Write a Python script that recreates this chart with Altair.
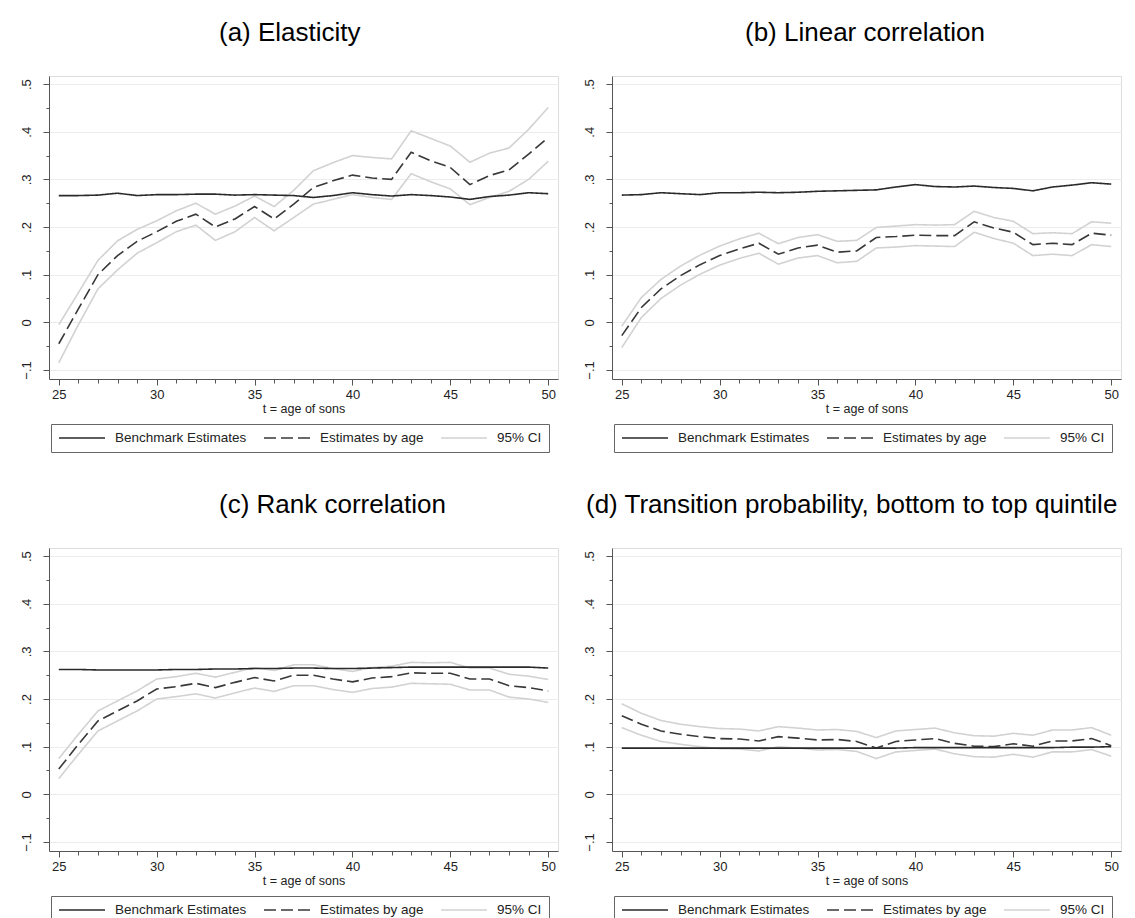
import altair as alt
import pandas as pd

ages = list(range(25, 51))

titles = ["(a) Elasticity", "(b) Linear correlation", "(c) Rank correlation",
          "(d) Transition probability, bottom to top quintile"]
series_names = ["Benchmark Estimates", "Estimates by age", "95% CI"]
y_ticks = [-0.1, -0.05, 0.0, 0.05, 0.1, 0.15, 0.2, 0.25, 0.3, 0.35, 0.4, 0.45, 0.5]
x_ticks = list(range(25, 51))
x_label = "t = age of sons"

# (a) Elasticity
bench_a = [0.266, 0.266, 0.267, 0.271, 0.266, 0.268, 0.268, 0.269, 0.269, 0.267, 0.268, 0.267, 0.266,
           0.262, 0.266, 0.272, 0.268, 0.265, 0.268, 0.266, 0.263, 0.258, 0.264, 0.267, 0.272, 0.270]
est_a = [-0.045, 0.028, 0.100, 0.140, 0.170, 0.190, 0.212, 0.227, 0.200, 0.217, 0.243, 0.217, 0.248,
         0.283, 0.297, 0.309, 0.303, 0.300, 0.357, 0.339, 0.325, 0.289, 0.308, 0.320, 0.353, 0.388]
hi_a = [-0.005, 0.062, 0.130, 0.171, 0.195, 0.213, 0.234, 0.250, 0.227, 0.244, 0.265, 0.243, 0.277,
        0.318, 0.335, 0.350, 0.346, 0.343, 0.402, 0.386, 0.370, 0.336, 0.355, 0.366, 0.405, 0.451]
lo_a = [-0.085, -0.005, 0.070, 0.110, 0.145, 0.167, 0.190, 0.204, 0.172, 0.190, 0.220, 0.192, 0.220,
        0.248, 0.258, 0.268, 0.262, 0.258, 0.312, 0.295, 0.280, 0.247, 0.262, 0.275, 0.300, 0.338]

# (b) Linear correlation
bench_b = [0.267, 0.268, 0.272, 0.270, 0.268, 0.272, 0.272, 0.273, 0.272, 0.273, 0.275, 0.276, 0.277,
           0.278, 0.284, 0.289, 0.285, 0.284, 0.286, 0.283, 0.281, 0.276, 0.284, 0.288, 0.293, 0.290]
est_b = [-0.028, 0.031, 0.070, 0.098, 0.121, 0.140, 0.154, 0.166, 0.143, 0.156, 0.162, 0.147, 0.150,
         0.178, 0.180, 0.183, 0.182, 0.182, 0.211, 0.198, 0.189, 0.163, 0.166, 0.163, 0.187, 0.183]
hi_b = [-0.008, 0.052, 0.090, 0.118, 0.141, 0.160, 0.175, 0.187, 0.165, 0.178, 0.184, 0.170, 0.172,
        0.199, 0.202, 0.205, 0.204, 0.205, 0.233, 0.220, 0.212, 0.186, 0.188, 0.186, 0.211, 0.208]
lo_b = [-0.053, 0.010, 0.050, 0.078, 0.101, 0.120, 0.134, 0.145, 0.122, 0.135, 0.140, 0.125, 0.128,
        0.156, 0.158, 0.161, 0.160, 0.159, 0.189, 0.176, 0.166, 0.140, 0.143, 0.140, 0.163, 0.159]

# (c) Rank correlation
bench_c = [0.262, 0.262, 0.261, 0.261, 0.261, 0.261, 0.262, 0.262, 0.263, 0.263, 0.264, 0.264, 0.265,
           0.265, 0.264, 0.264, 0.265, 0.266, 0.267, 0.267, 0.267, 0.267, 0.267, 0.267, 0.267, 0.265]
est_c = [0.053, 0.105, 0.154, 0.175, 0.196, 0.221, 0.226, 0.233, 0.224, 0.235, 0.245, 0.238, 0.250,
         0.250, 0.242, 0.236, 0.244, 0.247, 0.255, 0.254, 0.254, 0.242, 0.242, 0.228, 0.224, 0.217]
hi_c = [0.075, 0.126, 0.175, 0.196, 0.217, 0.242, 0.247, 0.254, 0.246, 0.256, 0.266, 0.260, 0.272,
        0.272, 0.264, 0.258, 0.266, 0.269, 0.277, 0.276, 0.277, 0.265, 0.265, 0.252, 0.248, 0.241]
lo_c = [0.033, 0.084, 0.133, 0.154, 0.175, 0.200, 0.205, 0.211, 0.202, 0.213, 0.223, 0.216, 0.228,
        0.228, 0.220, 0.214, 0.222, 0.225, 0.233, 0.232, 0.231, 0.219, 0.219, 0.204, 0.200, 0.193]

# (d) Transition probability
bench_d = [0.097, 0.097, 0.097, 0.097, 0.097, 0.097, 0.097, 0.097, 0.097, 0.097, 0.097, 0.097, 0.097,
           0.097, 0.097, 0.098, 0.098, 0.098, 0.098, 0.098, 0.098, 0.098, 0.098, 0.099, 0.099, 0.100]
est_d = [0.165, 0.147, 0.133, 0.126, 0.121, 0.117, 0.116, 0.112, 0.121, 0.118, 0.114, 0.115, 0.111,
         0.097, 0.111, 0.114, 0.117, 0.107, 0.101, 0.100, 0.106, 0.101, 0.112, 0.112, 0.117, 0.102]
hi_d = [0.190, 0.170, 0.155, 0.147, 0.142, 0.138, 0.137, 0.133, 0.142, 0.139, 0.135, 0.136, 0.132,
        0.119, 0.133, 0.136, 0.139, 0.129, 0.123, 0.122, 0.128, 0.124, 0.135, 0.135, 0.140, 0.124]
lo_d = [0.140, 0.124, 0.111, 0.105, 0.100, 0.096, 0.095, 0.091, 0.100, 0.097, 0.093, 0.094, 0.090,
        0.075, 0.089, 0.092, 0.095, 0.085, 0.079, 0.078, 0.084, 0.078, 0.089, 0.089, 0.094, 0.080]

FONT = "Liberation Sans"
W, H = 509, 303


def panel(title, dx, bench, est, lo, hi):
    rows = []
    for i, a in enumerate(ages):
        rows.append(dict(age=a, value=lo[i], series="95% CI", line="lo"))
        rows.append(dict(age=a, value=hi[i], series="95% CI", line="hi"))
        rows.append(dict(age=a, value=est[i], series="Estimates by age", line="est"))
        rows.append(dict(age=a, value=bench[i], series="Benchmark Estimates", line="bench"))
    df = pd.DataFrame(rows)

    legend = alt.Legend(
        orient="none", legendX=2, legendY=348, direction="horizontal", columns=3,
        symbolType="stroke", symbolSize=2116, clipHeight=14, labelFont=FONT, labelFontSize=13.5,
        labelColor="#222222", labelOffset=9, columnPadding=16, padding=7,
        strokeColor="#666666", labelLimit=220,
    )
    x = alt.X("age:Q", title=x_label,
              scale=alt.Scale(domain=[24.5, 50.5], nice=False, zero=False),
              axis=alt.Axis(values=x_ticks, grid=False,
                            labelExpr="datum.value % 5 == 0 ? datum.label : ''",
                            tickSize={"expr": "datum.value % 5 == 0 ? 6 : 4"},
                            labelFont=FONT, labelFontSize=13, labelColor="#222222",
                            labelPadding=3, titleFont=FONT, titleFontSize=12.5,
                            titleFontWeight="normal", titleColor="#222222", titlePadding=1,
                            domainColor="#555555", tickColor="#555555", labelFlush=False))
    y = alt.Y("value:Q", title=None,
              scale=alt.Scale(domain=[-0.119, 0.517], nice=False, zero=False),
              axis=alt.Axis(values=y_ticks,
                            labelExpr=("abs(round(datum.value*10) - datum.value*10) > 0.01 ? '' : "
                                       "(abs(datum.value) < 1e-9 ? '0' : "
                                       "replace(format(datum.value, '.1f'), '0.', '.'))"),
                            tickSize={"expr": "abs(round(datum.value*10) - datum.value*10) > 0.01 ? 3 : 6"},
                            gridOpacity={"expr": "abs(round(datum.value*10) - datum.value*10) > 0.01 ? 0 : 1"},
                            gridColor="#ececec", labelAngle=270, labelAlign="center",
                            labelBaseline="bottom", labelPadding=10,
                            labelFont=FONT, labelFontSize=13, labelColor="#222222",
                            domainColor="#555555", tickColor="#555555",
                            minExtent=40, maxExtent=40))
    color = alt.Color("series:N", title=None,
                      scale=alt.Scale(domain=series_names, range=["#2a2a2a", "#383838", "#d2d2d2"]),
                      legend=legend)
    dash = alt.StrokeDash("series:N", title=None,
                          scale=alt.Scale(domain=series_names, range=[[1, 0], [12, 5], [1, 0]]),
                          legend=legend)
    sw = alt.StrokeWidth("series:N", title=None,
                         scale=alt.Scale(domain=series_names, range=[1.6, 1.6, 2.2]),
                         legend=legend)
    base = alt.Chart(df).encode(x=x, y=y, color=color, strokeDash=dash, strokeWidth=sw,
                                detail="line:N")
    ci = base.transform_filter(alt.datum.series == "95% CI").mark_line()
    es = base.transform_filter(alt.datum.series == "Estimates by age").mark_line()
    bm = base.transform_filter(alt.datum.series == "Benchmark Estimates").mark_line()
    return alt.layer(ci, es, bm).properties(
        width=W, height=H,
        title=alt.TitleParams(title, anchor="start", frame="group", dx=dx, fontSize=26,
                              font=FONT, fontWeight="normal", color="#000000",
                              baseline="bottom", offset=4),
    )


def indep(c):
    return c.resolve_legend(color="independent", strokeDash="independent",
                            strokeWidth="independent")


pa = panel(titles[0], 170, bench_a, est_a, lo_a, hi_a)
pb = panel(titles[1], 133, bench_b, est_b, lo_b, hi_b)
pc = panel(titles[2], 170, bench_c, est_c, lo_c, hi_c)
pd_ = panel(titles[3], -26, bench_d, est_d, lo_d, hi_d)

row1 = indep(alt.hconcat(pa, pb, spacing=12))
row2 = indep(alt.hconcat(pc, pd_, spacing=12))
chart = indep(alt.vconcat(row1, row2, spacing=38)).properties(
    padding={"left": 0, "top": 11, "right": 0, "bottom": 0}
).configure_view(stroke=None).configure(background="white")

chart.save("out.html", embed_options={"renderer": "svg", "actions": False})
